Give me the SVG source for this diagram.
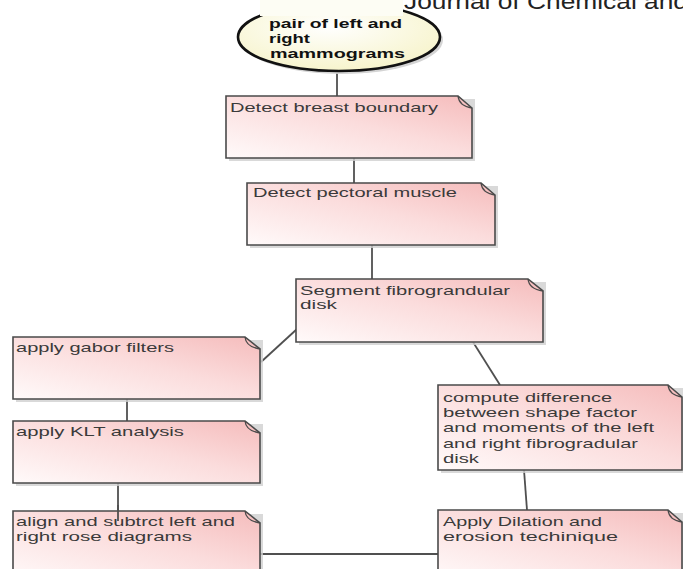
<svg xmlns="http://www.w3.org/2000/svg" width="683" height="569" viewBox="0 0 683 569">
<defs>
<linearGradient id="pink" x1="0" y1="1" x2="1" y2="0">
<stop offset="0" stop-color="#fffafa"/>
<stop offset="0.55" stop-color="#fbdcdc"/>
<stop offset="1" stop-color="#f5bcbc"/>
</linearGradient>
<radialGradient id="yel" cx="0.45" cy="0.35" r="0.7">
<stop offset="0" stop-color="#ffffff"/>
<stop offset="1" stop-color="#f6f3c8"/>
</radialGradient>
</defs>
<style>
.sh{fill:#cfcfcf;opacity:0.8}
.box{fill:url(#pink);stroke:#4a4a4a;stroke-width:1.6}
.fold{fill:none;stroke:#4a4a4a;stroke-width:1.3}
.t{font-family:"Liberation Sans",Arial,sans-serif;font-size:13px;fill:#3a3a3a}
.tb{font-family:"Liberation Sans",Arial,sans-serif;font-size:13px;font-weight:bold;fill:#111}
.c{stroke:#505050;stroke-width:1.8;fill:none}
.hdr{font-family:"Liberation Sans",Arial,sans-serif;font-size:22px;fill:#222}
</style>
<rect width="683" height="569" fill="#ffffff"/>

<g id="connectors">
<line class="c" x1="337" y1="71" x2="337" y2="96"/>
<line class="c" x1="354" y1="158" x2="354" y2="183"/>
<line class="c" x1="372" y1="245" x2="372" y2="279"/>
<line class="c" x1="297" y1="329" x2="261" y2="362"/>
<line class="c" x1="473" y1="342" x2="500" y2="385"/>
<line class="c" x1="127" y1="399" x2="127" y2="421"/>
<line class="c" x1="118" y1="483" x2="118" y2="521"/>
<line class="c" x1="524" y1="470" x2="527" y2="510"/>
<line class="c" x1="260" y1="554" x2="438" y2="554"/>
</g>

<g id="start">
<ellipse cx="342" cy="40" rx="101" ry="34" fill="#d4d4d4"/>
<ellipse cx="339" cy="37" rx="101" ry="34" fill="url(#yel)" stroke="#111" stroke-width="2.6"/>
<rect x="260" y="0" width="143" height="16" fill="#fdfdf4"/>
<text class="tb" x="269" y="28" textLength="133" lengthAdjust="spacingAndGlyphs">pair of left and</text>
<text class="tb" x="269" y="43" textLength="41" lengthAdjust="spacingAndGlyphs">right</text>
<text class="tb" x="270" y="58" textLength="135" lengthAdjust="spacingAndGlyphs">mammograms</text>
</g>

<text class="hdr" x="404" y="9" textLength="284" lengthAdjust="spacingAndGlyphs">Journal of Chemical and</text>

<g id="n1">
<rect class="sh" x="229" y="99" width="246" height="62"/>
<path class="box" d="M226,96 H458 L472,108 V158 H226 Z"/>
<path class="fold" d="M458,96 Q459,106 472,108"/>
<text class="t" x="230" y="112" textLength="208" lengthAdjust="spacingAndGlyphs">Detect breast boundary</text>
</g>

<g id="n2">
<rect class="sh" x="250" y="186" width="248" height="62"/>
<path class="box" d="M247,183 H481 L495,195 V245 H247 Z"/>
<path class="fold" d="M481,183 Q482,193 495,195"/>
<text class="t" x="253" y="197" textLength="204" lengthAdjust="spacingAndGlyphs">Detect pectoral muscle</text>
</g>

<g id="n3">
<rect class="sh" x="299" y="282" width="247" height="63"/>
<path class="box" d="M296,279 H528 L543,291 V342 H296 Z"/>
<path class="fold" d="M528,279 Q529,289 543,291"/>
<text class="t" x="300" y="295" textLength="210" lengthAdjust="spacingAndGlyphs">Segment fibrograndular</text>
<text class="t" x="300" y="309" textLength="37" lengthAdjust="spacingAndGlyphs">disk</text>
</g>

<g id="n4">
<rect class="sh" x="16" y="340" width="247" height="62"/>
<path class="box" d="M13,337 H245 L260,349 V399 H13 Z"/>
<path class="fold" d="M245,337 Q246,347 260,349"/>
<text class="t" x="16" y="352" textLength="158" lengthAdjust="spacingAndGlyphs">apply gabor filters</text>
</g>

<g id="n5">
<rect class="sh" x="16" y="424" width="247" height="62"/>
<path class="box" d="M13,421 H245 L260,433 V483 H13 Z"/>
<path class="fold" d="M245,421 Q246,431 260,433"/>
<text class="t" x="16" y="436" textLength="168" lengthAdjust="spacingAndGlyphs">apply KLT analysis</text>
</g>

<g id="n6">
<rect class="sh" x="16" y="514" width="247" height="70"/>
<path class="box" d="M13,511 H245 L260,523 V581 H13 Z"/>
<path class="fold" d="M245,511 Q246,521 260,523"/>
<text class="t" x="16" y="526" textLength="219" lengthAdjust="spacingAndGlyphs">align and subtrct left and</text>
<text class="t" x="16" y="541" textLength="176" lengthAdjust="spacingAndGlyphs">right rose diagrams</text>
</g>

<line class="c" x1="118" y1="505" x2="118" y2="521"/>

<g id="n7">
<rect class="sh" x="441" y="388" width="244" height="85"/>
<path class="box" d="M438,385 H668 L682,397 V470 H438 Z"/>
<path class="fold" d="M668,385 Q669,395 682,397"/>
<text class="t" x="443" y="402" textLength="169" lengthAdjust="spacingAndGlyphs">compute difference</text>
<text class="t" x="443" y="417" textLength="194" lengthAdjust="spacingAndGlyphs">between shape factor</text>
<text class="t" x="443" y="432" textLength="211" lengthAdjust="spacingAndGlyphs">and moments of the left</text>
<text class="t" x="443" y="448" textLength="195" lengthAdjust="spacingAndGlyphs">and right fibrogradular</text>
<text class="t" x="443" y="463" textLength="36" lengthAdjust="spacingAndGlyphs">disk</text>
</g>

<g id="n8">
<rect class="sh" x="441" y="513" width="245" height="70"/>
<path class="box" d="M438,510 H668 L682,522 V581 H438 Z"/>
<path class="fold" d="M668,510 Q669,520 682,522"/>
<text class="t" x="443" y="526" textLength="159" lengthAdjust="spacingAndGlyphs">Apply Dilation and</text>
<text class="t" x="443" y="541" textLength="175" lengthAdjust="spacingAndGlyphs">erosion techinique</text>
</g>
</svg>
